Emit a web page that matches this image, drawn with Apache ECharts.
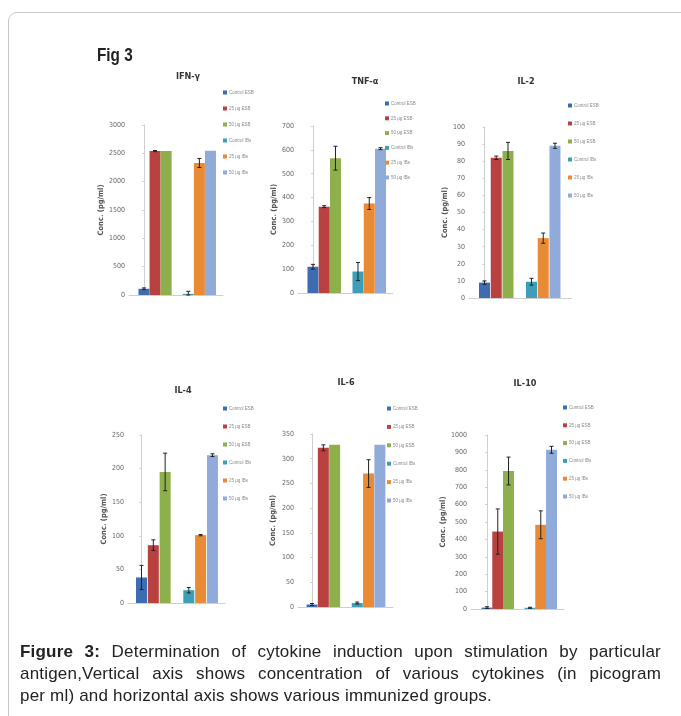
<!DOCTYPE html>
<html>
<head>
<meta charset="utf-8">
<script src="https://cdn.jsdelivr.net/npm/echarts@6/dist/echarts.min.js"></script>
<style>
  body { margin: 0; background: #fff; }
  #frame { position: absolute; left: 8px; top: 12px; width: 700px; height: 720px;
           border: 1px solid #c9c9c9; border-radius: 9px; }
  #chart { position: absolute; left: 0; top: 0; width: 681px; height: 716px; }
  #caption { position: absolute; left: 20px; top: 641px; width: 641px;
             font-family: "Liberation Sans", Arial, sans-serif; font-size: 17px;
             letter-spacing: 0.2px; line-height: 22px; color: #222; }
  #caption div.j { text-align: justify; text-align-last: justify; }
</style>
</head>
<body>
<div id="frame"></div>
<div id="chart"></div>
<div id="caption">
  <div class="j"><b>Figure 3:</b> Determination of cytokine induction upon stimulation by particular</div>
  <div class="j">antigen,Vertical axis shows concentration of various cytokines (in picogram</div>
  <div>per ml) and horizontal axis shows various immunized groups.</div>
</div>
<script>
// groups (legend) and bar slots on the x axis (slot 3 is the empty gap)
const groups = ["Control ESB", "25 µg ESB", "50 µg ESB", "Control IBs", "25 µg IBs", "50 µg IBs"];
const slots = [0, 1, 2, 4, 5, 6];
const colors = ["#3d6db0", "#b9413f", "#8db04c", "#3c9fb7", "#e98a35", "#90aada"];

const titles = ["IFN-γ", "TNF-α", "IL-2", "IL-4", "IL-6", "IL-10"];
const yMax = [3000, 700, 100, 250, 350, 1000];
const yStep = [500, 100, 10, 50, 50, 100];

// means and error (± pg/ml)
const ifnMean = [110, 2540, 2540, 20, 2330, 2545];
const ifnErr = [15, 10, 0, 45, 80, 0];
const tnfMean = [110, 362, 565, 90, 375, 605];
const tnfErr = [10, 4, 50, 38, 25, 4];
const il2Mean = [9, 82, 86, 9.5, 35, 89];
const il2Err = [1, 1, 5, 2, 3, 1.5];
const il4Mean = [38, 86, 195, 19, 101, 220];
const il4Err = [18, 8, 28, 4, 1, 2];
const il6Mean = [5, 322, 328, 8, 270, 328];
const il6Err = [2, 6, 0, 2, 28, 0];
const il10Mean = [8, 445, 793, 7, 484, 915];
const il10Err = [5, 130, 80, 3, 80, 20];

const means = [ifnMean, tnfMean, il2Mean, il4Mean, il6Mean, il10Mean];
const errs = [ifnErr, tnfErr, il2Err, il4Err, il6Err, il10Err];

// layout of each small panel
const grids = [
  { left: 129, top: 125, width: 94, height: 170 },
  { left: 298, top: 126, width: 95, height: 167 },
  { left: 469, top: 127, width: 103, height: 171 },
  { left: 128, top: 435, width: 97, height: 168 },
  { left: 298, top: 434, width: 95, height: 173 },
  { left: 471, top: 435, width: 93, height: 174 }
];
const xRange = [[-1.35, 7.13], [-1.33, 7.11], [-1.32, 7.45], [-1.14, 7.06], [-1.24, 7.16], [-1.49, 7.16]];
const titlePos = [[183, 73], [360, 78], [521, 78], [178, 387], [341, 379], [520, 380]];
const legendPos = [[223, 90, 16], [385, 101, 14.8], [568, 103, 18], [223, 406, 18], [387, 406, 18.4], [563, 405, 17.8]];
const nameGap = [22, 16, 17, 20, 21, 18];

const narrow = '"DejaVu Sans Condensed", "Liberation Sans Narrow", "Liberation Sans", sans-serif';

const chart = echarts.init(document.getElementById("chart"));

const title = titles.map((t, i) => ({
  text: t, left: titlePos[i][0], top: titlePos[i][1] - 6, textAlign: "center",
  textStyle: { fontFamily: narrow, fontSize: 9, fontWeight: "bold", color: "#333" }
}));

const legend = legendPos.map(p => ({
  data: groups, orient: "vertical", left: p[0], top: p[1],
  itemWidth: 4, itemHeight: 4, itemGap: p[2] - 5, selectedMode: false,
  icon: "rect", padding: 0,
  textStyle: { fontSize: 4.5, lineHeight: 5, color: "#8a8a8a", padding: [0, 0, 0, -3] }
}));

const xAxis = grids.map((g, i) => ({
  gridIndex: i, type: "value", min: xRange[i][0], max: xRange[i][1],
  axisLine: { show: true, onZero: false, lineStyle: { color: "#cfcfcf" } },
  axisTick: { show: false }, axisLabel: { show: false }, splitLine: { show: false }
}));

const yAxis = grids.map((g, i) => ({
  gridIndex: i, type: "value", min: 0, max: yMax[i], interval: yStep[i],
  name: "Conc. (pg/ml)", nameLocation: "middle", nameGap: nameGap[i],
  nameTextStyle: { fontFamily: narrow, fontSize: 7.5, fontWeight: "bold", color: "#555" },
  axisLine: { show: true, lineStyle: { color: "#cfcfcf" } },
  axisTick: { show: true, length: 2, lineStyle: { color: "#cfcfcf" } },
  axisLabel: { fontFamily: narrow, fontSize: 7, color: "#666", margin: 4, formatter: v => String(v) },
  splitLine: { show: false }
}));

const series = [];
means.forEach((m, p) => {
  groups.forEach((name, i) => {
    series.push({
      name, type: "bar", xAxisIndex: p, yAxisIndex: p,
      barWidth: 11, barGap: "-100%",
      itemStyle: { color: colors[i] },
      data: [[slots[i], m[i]]]
    });
  });
  series.push({
    type: "custom", xAxisIndex: p, yAxisIndex: p, z: 5,
    encode: { x: 0, y: 1 },
    data: slots.map((s, i) => [s, m[i], errs[p][i]]),
    renderItem: (params, api) => {
      const x = api.value(0), v = api.value(1), e = api.value(2);
      if (!e) return null;
      const hi = api.coord([x, v + e]);
      const lo = api.coord([x, Math.max(v - e, 0)]);
      const st = { stroke: "#222", lineWidth: 1 };
      return {
        type: "group",
        children: [
          { type: "line", shape: { x1: hi[0], y1: hi[1], x2: lo[0], y2: lo[1] }, style: st },
          { type: "line", shape: { x1: hi[0] - 2, y1: hi[1], x2: hi[0] + 2, y2: hi[1] }, style: st },
          { type: "line", shape: { x1: lo[0] - 2, y1: lo[1], x2: lo[0] + 2, y2: lo[1] }, style: st }
        ]
      };
    }
  });
});

chart.setOption({
  animation: false,
  title, legend,
  graphic: [{
    type: "text", x: 97, y: 47, scaleX: 0.85,
    style: { text: "Fig 3", font: 'bold 18px "Liberation Sans", Arial, sans-serif', fill: "#222" }
  }],
  grid: grids,
  xAxis, yAxis,
  series
});
</script>
</body>
</html>
